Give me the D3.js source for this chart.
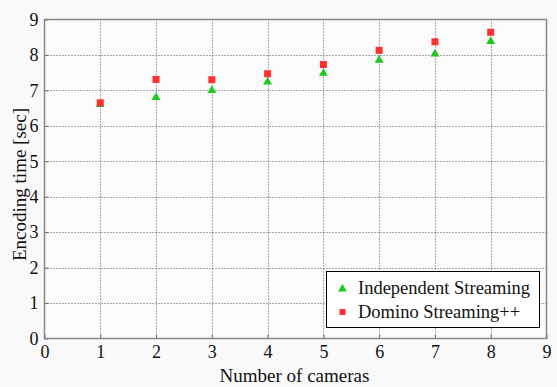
<!DOCTYPE html>
<html>
<head>
<meta charset="utf-8">
<script src="https://cdn.jsdelivr.net/npm/d3@7"></script>
<style>
  html, body { margin: 0; padding: 0; background: #f9f9f9; }
  svg text { font-family: "Liberation Serif", "Times New Roman", Times, serif; }
</style>
</head>
<body>
<svg id="chart" width="557" height="387"></svg>
<script>
// Encoding time per number of cameras
const cameras = [1, 2, 3, 4, 5, 6, 7, 8];
const independentStreaming = [6.63, 6.83, 7.03, 7.27, 7.51, 7.88, 8.06, 8.41];
const dominoStreaming = [6.65, 7.31, 7.30, 7.47, 7.73, 8.13, 8.37, 8.64];
const xTicks = [0, 1, 2, 3, 4, 5, 6, 7, 8, 9];
const yTicks = [0, 1, 2, 3, 4, 5, 6, 7, 8, 9];
const seriesNames = ["Independent Streaming", "Domino Streaming++"];

const svg = d3.select("#chart");
const margin = { left: 44.5, top: 19.5, right: 10.5, bottom: 48.5 };
const W = 557, H = 387;
const FONT = "Liberation Serif, Times New Roman, serif";

const x = d3.scaleLinear().domain([0, 9]).range([margin.left, W - margin.right]);
const y = d3.scaleLinear().domain([0, 9]).range([H - margin.bottom, margin.top]);

// plot background
svg.append("rect")
  .attr("x", x(0)).attr("y", y(9))
  .attr("width", x(9) - x(0)).attr("height", y(0) - y(9))
  .attr("fill", "#fbfbfb");

// dotted grid
const grid = svg.append("g").attr("stroke", "#555").attr("stroke-width", 1)
  .attr("stroke-dasharray", "1,2");
grid.selectAll(".gx").data(xTicks.slice(1, -1)).join("line")
  .attr("x1", d => Math.round(x(d)) + 0.5).attr("x2", d => Math.round(x(d)) + 0.5)
  .attr("y1", y(0)).attr("y2", y(9));
grid.selectAll(".gy").data(yTicks.slice(1, -1)).join("line")
  .attr("y1", d => Math.round(y(d)) + 0.5).attr("y2", d => Math.round(y(d)) + 0.5)
  .attr("x1", x(0)).attr("x2", x(9));

// axes with inward ticks
const xAxis = svg.append("g").attr("transform", `translate(0,${y(0)})`)
  .call(d3.axisBottom(x).tickValues(xTicks).tickSize(-4).tickPadding(8).tickFormat(d3.format("d")));
const yAxis = svg.append("g").attr("transform", `translate(${x(0)},0)`)
  .call(d3.axisLeft(y).tickValues(yTicks).tickSize(-4).tickPadding(6).tickFormat(d3.format("d")));
[xAxis, yAxis].forEach(g => {
  g.attr("font-family", FONT).attr("font-size", 18);
  g.select(".domain").remove();
  g.selectAll(".tick line").attr("stroke", "#666");
  g.selectAll("text").attr("fill", "#111");
});
xAxis.selectAll("text").attr("y", 19).attr("dy", null);

// frame
svg.append("rect")
  .attr("x", x(0)).attr("y", y(9))
  .attr("width", x(9) - x(0)).attr("height", y(0) - y(9))
  .attr("fill", "none").attr("stroke", "#888").attr("stroke-width", 1.5);

// axis titles
svg.append("text").attr("x", 294.5).attr("y", 381.5)
  .attr("text-anchor", "middle").attr("font-size", 19).attr("fill", "#111")
  .attr("font-family", FONT)
  .text("Number of cameras");
svg.append("text").attr("transform", "translate(26,184.5) rotate(-90)")
  .attr("text-anchor", "middle").attr("font-size", 19).attr("fill", "#111")
  .attr("font-family", FONT)
  .text("Encoding time [sec]");

const green = "#1ec81e", red = "#ff3030";
const tri = d3.symbol().type(d3.symbolTriangle).size(34);

// markers
svg.append("g").selectAll("path").data(cameras).join("path")
  .attr("d", tri)
  .attr("transform", (d, i) => `translate(${x(d)},${y(independentStreaming[i]) + 1})`)
  .attr("fill", green);
svg.append("g").selectAll("rect").data(cameras).join("rect")
  .attr("x", d => x(d) - 3.5).attr("y", (d, i) => y(dominoStreaming[i]) - 3.5)
  .attr("width", 7).attr("height", 7)
  .attr("fill", red);

// legend
const lg = svg.append("g");
lg.append("rect").attr("x", 326.5).attr("y", 271.5).attr("width", 213).attr("height", 56)
  .attr("fill", "#fff").attr("stroke", "#000").attr("stroke-width", 1);
lg.append("path").attr("d", tri).attr("transform", "translate(342.5,289)").attr("fill", green);
lg.append("rect").attr("x", 339.5).attr("y", 309).attr("width", 6).attr("height", 6).attr("fill", red);
lg.selectAll("text").data(seriesNames).join("text")
  .attr("x", 358).attr("y", (d, i) => 294 + i * 24)
  .attr("font-size", 18.5).attr("fill", "#111").attr("font-family", FONT)
  .text(d => d);
</script>
</body>
</html>
